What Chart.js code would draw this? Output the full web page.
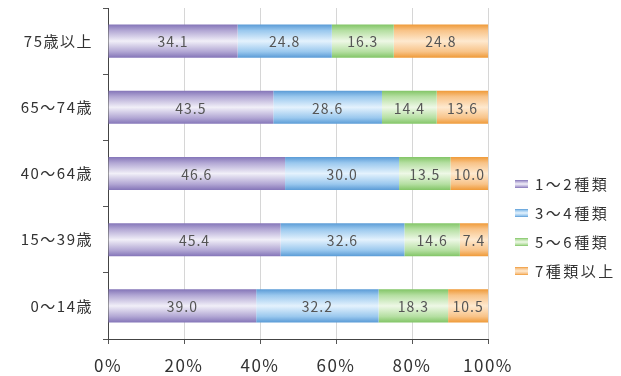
<!DOCTYPE html>
<html lang="ja">
<head>
<meta charset="utf-8">
<script src="https://cdn.jsdelivr.net/npm/chart.js@4"></script>
<style>
  html, body { margin: 0; padding: 0; background: #fff; }
  #wrap { width: 621px; height: 376px; position: relative; }
</style>
</head>
<body>
<div id="wrap"><canvas id="c" width="621" height="376"></canvas></div>
<script>
// Age groups, top to bottom
const categories = ['75歳以上', '65～74歳', '40～64歳', '15～39歳', '0～14歳'];

// Number of medicine kinds, share in %
const seriesNames = ['1～2種類', '3～4種類', '5～6種類', '7種類以上'];
const kinds1to2 = [34.1, 43.5, 46.6, 45.4, 39.0];
const kinds3to4 = [24.8, 28.6, 30.0, 32.6, 32.2];
const kinds5to6 = [16.3, 14.4, 13.5, 14.6, 18.3];
const kinds7plus = [24.8, 13.6, 10.0, 7.4, 10.5];

const xTickLabels = ['0%', '20%', '40%', '60%', '80%', '100%'];

// edge colour / centre colour of each band
const palette = [
  { edge: '#8475b8', mid: '#b2a7d4', light: '#f1eff8' },
  { edge: '#5a9bd6', mid: '#9ac8ee', light: '#e4f2fd' },
  { edge: '#82c566', mid: '#b5dfa2', light: '#eef8e6' },
  { edge: '#ef9a38', mid: '#f8c388', light: '#fee9cf' }
];

const FONT = '"Noto Sans CJK JP", "Noto Sans", sans-serif';

function vGradient(ctx, top, bottom, p) {
  const g = ctx.createLinearGradient(0, top, 0, bottom);
  g.addColorStop(0, p.edge);
  g.addColorStop(0.18, p.mid);
  g.addColorStop(0.5, p.light);
  g.addColorStop(0.82, p.mid);
  g.addColorStop(1, p.edge);
  return g;
}

function barFill(p) {
  return (c) => {
    const chart = c.chart;
    if (!chart.chartArea || c.dataIndex === undefined) return p.mid;
    const ys = chart.scales.y;
    const center = ys.getPixelForValue(c.dataIndex);
    const band = Math.abs(ys.getPixelForValue(1) - ys.getPixelForValue(0));
    const half = band * 0.25;
    return vGradient(chart.ctx, center - half, center + half, p);
  };
}

const seriesValues = [kinds1to2, kinds3to4, kinds5to6, kinds7plus];

const spacing = {
  id: 'spacing',
  beforeLayout(chart) { chart.ctx.letterSpacing = '1.5px'; },
  beforeDraw(chart) { chart.ctx.letterSpacing = '1.5px'; }
};

// value labels in the middle of each segment
const valueLabels = {
  id: 'valueLabels',
  afterDatasetsDraw(chart) {
    const ctx = chart.ctx;
    ctx.save();
    ctx.letterSpacing = '1px';
    ctx.font = '14px ' + FONT;
    ctx.fillStyle = '#555';
    ctx.textAlign = 'center';
    ctx.textBaseline = 'middle';
    chart.data.datasets.forEach((ds, i) => {
      chart.getDatasetMeta(i).data.forEach((bar, j) => {
        const cx = (bar.x + bar.base) / 2;
        ctx.fillText(ds.data[j].toFixed(1), cx, bar.y + 1);
      });
    });
    ctx.restore();
  }
};

// legend on the right
const sideLegend = {
  id: 'sideLegend',
  afterDraw(chart) {
    const ctx = chart.ctx;
    ctx.save();
    ctx.letterSpacing = '2.5px';
    ctx.font = '15px ' + FONT;
    ctx.textBaseline = 'middle';
    const x0 = 515, y0 = 184, step = 29;
    chart.data.datasets.forEach((ds, i) => {
      const y = y0 + i * step;
      ctx.fillStyle = vGradient(ctx, y - 4, y + 4, palette[i]);
      ctx.fillRect(x0, y - 4, 13, 8);
      ctx.fillStyle = '#333';
      ctx.fillText(ds.label, x0 + 20, y);
    });
    ctx.restore();
  }
};

new Chart(document.getElementById('c'), {
  type: 'bar',
  data: {
    labels: categories,
    datasets: seriesValues.map((vals, i) => ({
      label: seriesNames[i],
      data: vals,
      backgroundColor: barFill(palette[i]),
      borderWidth: 0,
      categoryPercentage: 1,
      barPercentage: 0.5
    }))
  },
  options: {
    indexAxis: 'y',
    responsive: false,
    animation: false,
    layout: { padding: { top: 8, right: 133, left: 0, bottom: 0 } },
    plugins: { legend: { display: false }, tooltip: { enabled: false } },
    scales: {
      x: {
        stacked: true,
        min: 0,
        max: 100,
        afterFit(s) { s.height = 37; },
        afterBuildTicks(s) { s.ticks = xTickLabels.map((_, i) => ({ value: i * 20 })); },
        ticks: {
          callback: (v, i) => xTickLabels[i],
          font: { family: FONT, size: 17 },
          color: '#333',
          padding: 11,
          maxRotation: 0
        },
        grid: { color: '#d6d6d6', tickColor: '#555', tickLength: 5 },
        border: { color: '#444', width: 1 }
      },
      y: {
        stacked: true,
        afterFit(s) { s.width = 108; s.paddingTop = 0; s.paddingBottom = 0; },
        ticks: {
          font: { family: FONT, size: 15 },
          color: '#333',
          padding: 10
        },
        grid: { drawOnChartArea: false, tickColor: '#555', tickLength: 5 },
        border: { color: '#444', width: 1 }
      }
    }
  },
  plugins: [spacing, valueLabels, sideLegend]
});
</script>
</body>
</html>
